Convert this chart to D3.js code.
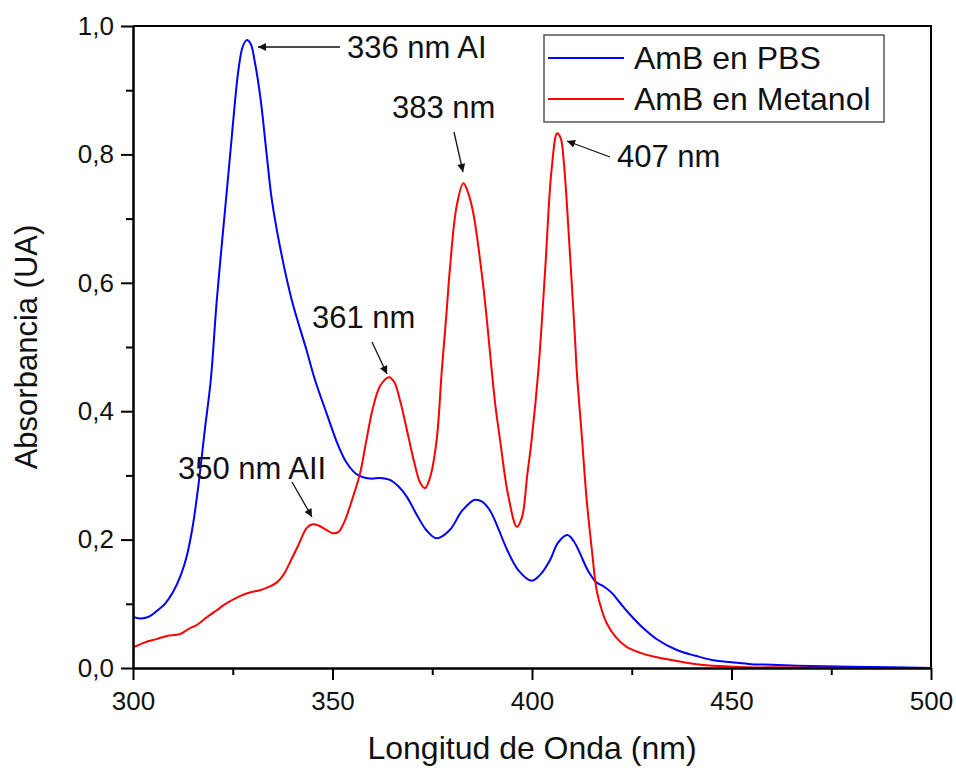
<!DOCTYPE html>
<html>
<head>
<meta charset="utf-8">
<script src="https://cdn.jsdelivr.net/npm/d3@7"></script>
<style>
  body { margin: 0; background: #fff; }
  text { font-family: Arial, "Liberation Sans", sans-serif; fill: #111; }
</style>
</head>
<body>
<svg id="chart" width="956" height="768"></svg>
<script>
// AmB en PBS (wavelength nm, absorbance)
const pbsNm = [300, 302, 304, 306, 308, 310, 312, 313.5, 315, 316.4, 318, 319.5, 321, 323.3, 324.5, 325.6, 326.5, 327.5, 328.5, 329.5, 330.5, 332, 333.5, 334.8, 337, 339.8, 343.5, 345.6, 348.5, 351.4, 353.5, 356, 359.4, 362, 364.4, 366.5, 368.6, 371, 373.5, 376.1, 379.4, 382.5, 385.7, 387.5, 389.5, 391.5, 393.7, 396.5, 399.9, 402, 404.5, 406.5, 408.9, 410.5, 412, 414, 416.2, 418, 420, 422, 424.6, 427.9, 431, 436.3, 441, 445.4, 450, 455, 460, 470, 480, 490, 500]
const pbsAbs = [0.080, 0.077, 0.080, 0.089, 0.100, 0.118, 0.145, 0.175, 0.222, 0.285, 0.371, 0.449, 0.573, 0.729, 0.810, 0.885, 0.935, 0.968, 0.978, 0.972, 0.945, 0.885, 0.800, 0.729, 0.651, 0.573, 0.495, 0.449, 0.397, 0.347, 0.320, 0.302, 0.295, 0.296, 0.293, 0.283, 0.267, 0.240, 0.215, 0.202, 0.215, 0.245, 0.262, 0.259, 0.245, 0.218, 0.185, 0.153, 0.136, 0.145, 0.168, 0.195, 0.207, 0.197, 0.179, 0.152, 0.133, 0.127, 0.117, 0.102, 0.083, 0.062, 0.046, 0.028, 0.019, 0.012, 0.009, 0.006, 0.005, 0.003, 0.002, 0.001, 0.000]

// AmB en Metanol
const metNm = [300, 303, 305.9, 308.5, 311.8, 314.3, 316, 318.5, 321, 323, 326.8, 329.5, 331.8, 334.3, 336, 337.7, 339.3, 341.5, 343.5, 345, 346.5, 348.5, 350, 351.5, 353, 354.8, 356.9, 358.5, 360.2, 362, 364.2, 365.5, 367, 368.6, 370.5, 372, 373.2, 374.5, 376.1, 377.4, 378.6, 379.4, 381.1, 382.8, 384, 385.3, 387.8, 389.9, 390.8, 392, 394, 396.2, 397.5, 398.8, 399.9, 401.6, 403.3, 404.9, 406.3, 407.2, 408, 409.5, 410.8, 411.2, 412.5, 413.7, 415, 416.2, 417.5, 418.7, 421, 423.7, 427, 430.4, 436.3, 441.3, 447, 453.8, 460, 470, 480, 490, 500]
const metAbs = [0.032, 0.040, 0.045, 0.050, 0.053, 0.062, 0.067, 0.079, 0.090, 0.099, 0.112, 0.118, 0.121, 0.127, 0.133, 0.145, 0.164, 0.192, 0.218, 0.224, 0.222, 0.215, 0.210, 0.212, 0.228, 0.260, 0.303, 0.355, 0.407, 0.440, 0.453, 0.445, 0.415, 0.372, 0.320, 0.288, 0.280, 0.298, 0.355, 0.464, 0.555, 0.620, 0.719, 0.755, 0.740, 0.708, 0.594, 0.464, 0.410, 0.355, 0.270, 0.220, 0.235, 0.300, 0.355, 0.464, 0.620, 0.776, 0.833, 0.825, 0.786, 0.646, 0.511, 0.464, 0.360, 0.262, 0.184, 0.121, 0.090, 0.070, 0.048, 0.033, 0.024, 0.018, 0.011, 0.006, 0.003, 0.001, 0.001, 0.0005, 0, 0, 0]

const seriesNames = ['AmB en PBS', 'AmB en Metanol']
const seriesColors = ['#0000ff', '#ff0000']

const noteLabels = ['336 nm AI', '383 nm', '407 nm', '361 nm', '350 nm AII']

const xTicks = [300, 350, 400, 450, 500]
const xMinor = [325, 375, 425, 475]
const yTicks = [0, 0.2, 0.4, 0.6, 0.8, 1.0]
const yMinor = [0.1, 0.3, 0.5, 0.7, 0.9]

const mLeft = 133, mRight = 931, mTop = 26, mBottom = 668

const svg = d3.select('#chart')

const x = d3.scaleLinear().domain([300, 500]).range([mLeft, mRight])
const y = d3.scaleLinear().domain([0, 1]).range([mBottom, mTop])

const fmt = d => d3.format('.1f')(d).replace('.', ',')

// frame (top & right)
svg.append('path')
  .attr('d', `M${mLeft},${mTop}H${mRight}V${mBottom}`)
  .attr('fill', 'none')
  .attr('stroke', '#000')
  .attr('stroke-width', 2)

// data lines
const line = d3.line()
  .x(d => x(d[0]))
  .y(d => y(d[1]))
  .curve(d3.curveCatmullRom.alpha(0.5))

const series = [
  d3.zip(pbsNm, pbsAbs),
  d3.zip(metNm, metAbs)
]

svg.append('clipPath').attr('id', 'clip')
  .append('rect')
  .attr('x', mLeft).attr('y', mTop)
  .attr('width', mRight - mLeft).attr('height', mBottom - mTop)

svg.append('g').attr('clip-path', 'url(#clip)')
  .selectAll('path')
  .data(series)
  .enter()
  .append('path')
  .attr('d', line)
  .attr('fill', 'none')
  .attr('stroke', (d, i) => seriesColors[i])
  .attr('stroke-width', 2)

// axes
svg.append('g')
  .attr('transform', `translate(0,${mBottom})`)
  .call(d3.axisBottom(x).tickValues(xTicks).tickSize(12).tickSizeOuter(0).tickPadding(12).tickFormat(d3.format('d')))
svg.append('g')
  .attr('transform', `translate(0,${mBottom})`)
  .call(d3.axisBottom(x).tickValues(xMinor).tickSize(7).tickSizeOuter(0).tickFormat(''))

svg.append('g')
  .attr('transform', `translate(${mLeft},0)`)
  .call(d3.axisLeft(y).tickValues(yTicks).tickSize(12).tickSizeOuter(0).tickPadding(7).tickFormat(fmt))
svg.append('g')
  .attr('transform', `translate(${mLeft},0)`)
  .call(d3.axisLeft(y).tickValues(yMinor).tickSize(7).tickSizeOuter(0).tickFormat(''))

svg.selectAll('.domain').attr('stroke', '#000').attr('stroke-width', 2)
svg.selectAll('.tick line').attr('stroke', '#000').attr('stroke-width', 2)
svg.selectAll('.tick text')
  .style('font-family', 'Arial, "Liberation Sans", sans-serif')
  .style('font-size', '26px')
  .attr('fill', '#111')

// axis titles
svg.append('text')
  .attr('x', (mLeft + mRight) / 2)
  .attr('y', 759)
  .attr('text-anchor', 'middle')
  .style('font-size', '32px')
  .text('Longitud de Onda (nm)')

svg.append('text')
  .attr('transform', `translate(37,${(mTop + mBottom) / 2}) rotate(-90)`)
  .attr('text-anchor', 'middle')
  .style('font-size', '31px')
  .text('Absorbancia (UA)')

// legend
const lg = svg.append('g')
lg.append('rect')
  .attr('x', 544).attr('y', 35).attr('width', 340).attr('height', 87)
  .attr('fill', '#fff').attr('stroke', '#555').attr('stroke-width', 1.5)
seriesNames.forEach((name, i) => {
  const ly = 58 + i * 41
  lg.append('line')
    .attr('x1', 548).attr('x2', 624).attr('y1', ly).attr('y2', ly)
    .attr('stroke', seriesColors[i]).attr('stroke-width', 2)
  lg.append('text')
    .attr('x', 634).attr('y', ly + 11)
    .style('font-size', '32px')
    .text(name)
})

// annotations
svg.append('defs').append('marker')
  .attr('id', 'arrow')
  .attr('viewBox', '0 0 10 10')
  .attr('refX', 10).attr('refY', 5)
  .attr('markerWidth', 14).attr('markerHeight', 8)
  .attr('markerUnits', 'userSpaceOnUse')
  .attr('orient', 'auto')
  .append('path')
  .attr('d', 'M0,0L10,5L0,10Z')
  .attr('fill', '#111')

// [text x, text baseline, arrow from (px), arrow to (px)]
const notePos = [
  [347, 58, [340, 47], [258, 47]],
  [392, 118, [454, 132], [463, 172]],
  [617, 167, [610, 157], [567, 141]],
  [312, 328, [372, 342], [387, 374]],
  [178, 479, [292, 482], [312, 517]]
]

notePos.forEach((p, i) => {
  svg.append('text')
    .attr('x', p[0]).attr('y', p[1])
    .style('font-size', '31px')
    .text(noteLabels[i])
  svg.append('line')
    .attr('x1', p[2][0]).attr('y1', p[2][1])
    .attr('x2', p[3][0]).attr('y2', p[3][1])
    .attr('stroke', '#111').attr('stroke-width', 1.3)
    .attr('marker-end', 'url(#arrow)')
})
</script>
</body>
</html>
